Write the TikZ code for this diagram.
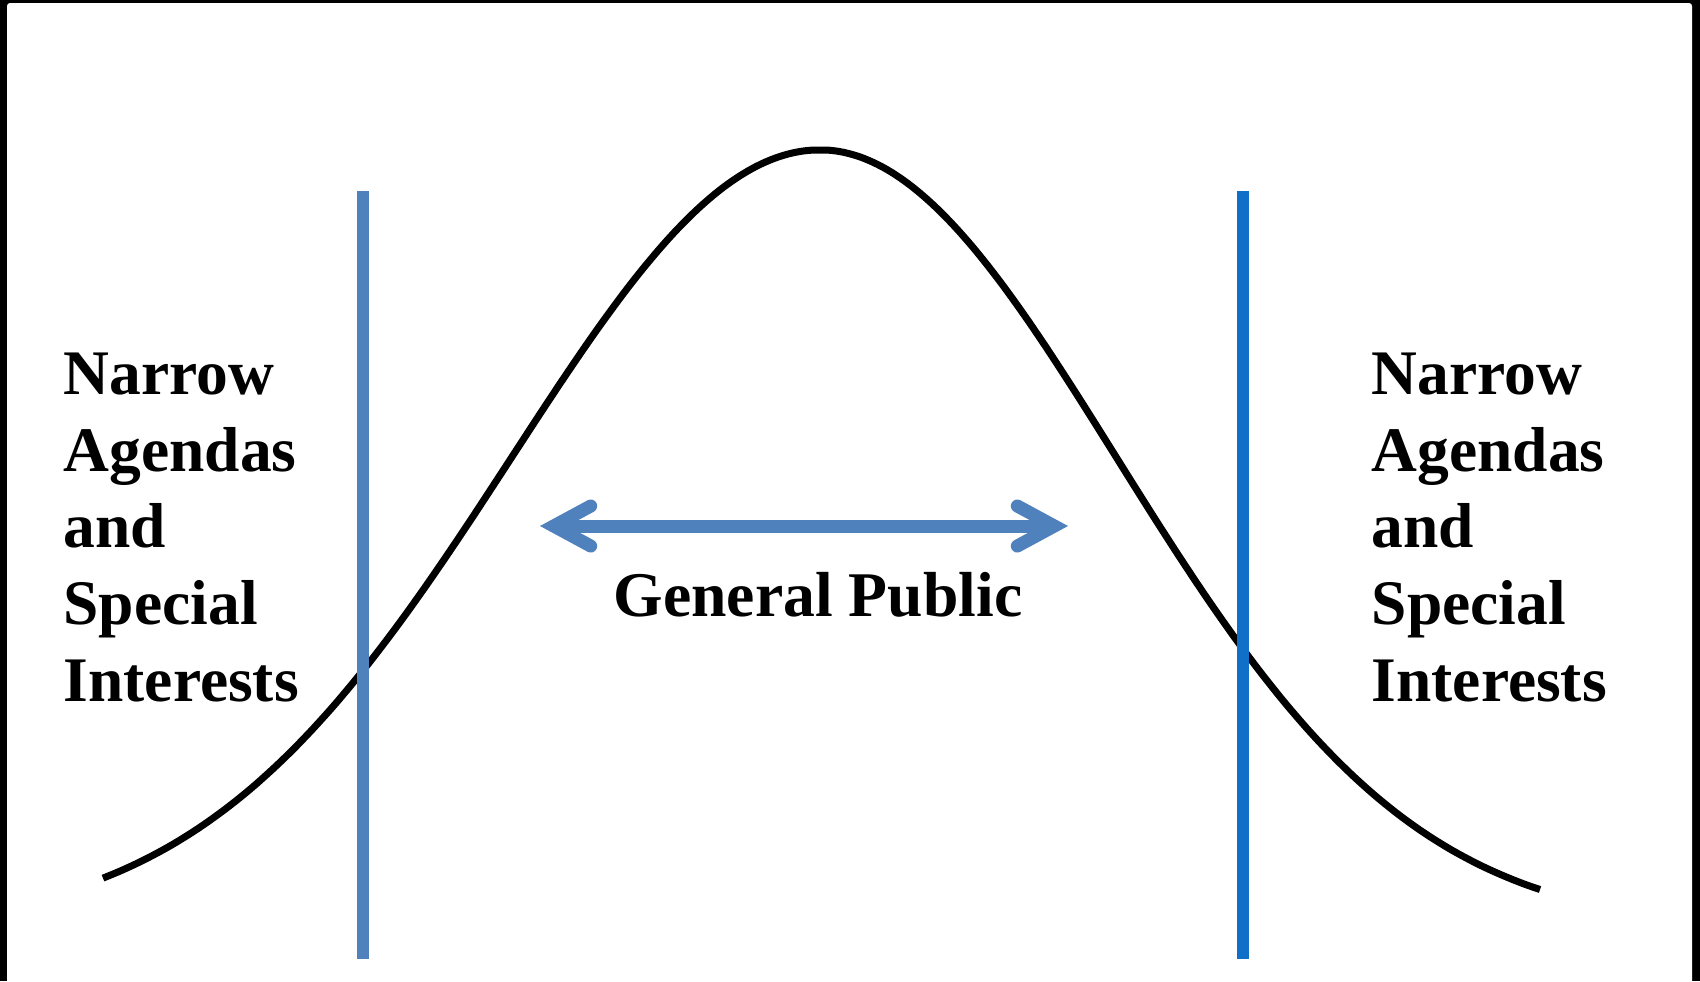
\documentclass[tikz,border=0pt]{standalone}
\usepackage{fontspec}
\setmainfont{Liberation Serif}
\usepackage{tikz}
\usetikzlibrary{arrows.meta, positioning}

\definecolor{barblue}{RGB}{79,129,189}
\definecolor{edgeblue}{RGB}{16,112,200}

\begin{document}
\begin{tikzpicture}[
  x=0.01cm, y=-0.01cm,
  curve/.style={line width=0.07cm, black},
  cutline/.style={line width=0.12cm},
  sidetext/.style={anchor=north west, inner sep=0pt, align=left, font=\fontsize{18.05}{21.85}\selectfont\bfseries},
  midtext/.style={anchor=base, inner sep=0pt, font=\fontsize{18.1}{21.85}\selectfont\bfseries},
  twoway/.style={line width=0.13cm, barblue, {Straight Barb[length=0.37cm, width=0.4cm, line cap=round]}-{Straight Barb[length=0.37cm, width=0.4cm, line cap=round]}},
]
\useasboundingbox (0,0) rectangle (1700,981);
\fill[black] (0,0) rectangle (1700,981);
\fill[white, rounded corners=0.03cm] (7,3) rectangle (1692,1000);

% bell curve
\draw[curve] plot[domain=103:820, samples=90, smooth] (\x,{930-780*exp(-0.5*((\x-820)/308)^2)})
  -- plot[domain=820:1540, samples=90, smooth] (\x,{930-780*exp(-0.5*((\x-820)/296)^2)});

% cut-off lines
\coordinate (lefttop) at (363,191);
\coordinate (leftbot) at (363,959);
\coordinate (righttop) at (1243,191);
\coordinate (rightbot) at (1243,959);
\draw[cutline, barblue] (lefttop) -- (leftbot);
\draw[cutline, edgeblue] (righttop) -- (rightbot);

% middle arrow
\coordinate (gpL) at (540,526);
\coordinate (gpR) at (1068,526);
\draw[twoway] (gpL) -- (gpR);
\node[midtext] (public) at (818,616) {General Public};

\node[sidetext] (leftgroup) at (63,352) {Narrow\\Agendas\\and\\Special\\Interests};
\node[sidetext] (rightgroup) at (1371,352) {Narrow\\Agendas\\and\\Special\\Interests};
\end{tikzpicture}
\end{document}
